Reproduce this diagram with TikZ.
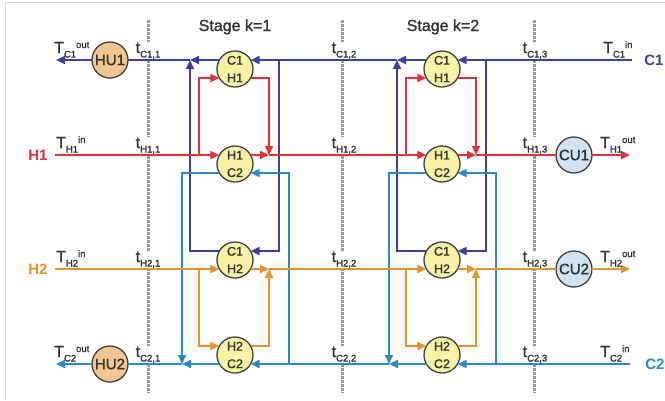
\documentclass[tikz,border=0pt]{standalone}
\usepackage{fontspec}
\setmainfont{Liberation Sans}
\newfontfamily\medfont{Liberation Sans}[FakeBold=1.4]
\usetikzlibrary{arrows.meta, positioning}

\definecolor{cold1}{HTML}{3D3F9A}
\definecolor{hot1}{HTML}{E2303D}
\definecolor{hot2}{HTML}{E8922C}
\definecolor{cold2}{HTML}{2A89C8}
\definecolor{hxfill}{HTML}{FAF3A6}
\definecolor{hufill}{HTML}{F2C68E}
\definecolor{cufill}{HTML}{D0E4F3}

% label with subscript and superscript
\newcommand{\tlab}[3]{#1\raisebox{-4.5pt}{\fontsize{9.5}{9.5}\selectfont #2}\raisebox{5pt}{\fontsize{9.5}{9.5}\selectfont #3}}

\begin{document}
\begin{tikzpicture}[
                x=1pt, y=-1pt,
                every node/.style={font=\medfont\fontsize{16}{18}\selectfont, text=black!80},
                hx/.style={draw=black!75, fill=hxfill, circle, minimum size=36pt, inner sep=0pt, outer sep=0pt,
                           line width=1.3pt, align=center, font=\medfont\fontsize{12.5}{17.5}\selectfont},
                hu/.style={hx, fill=hufill, font=\medfont\fontsize{15}{15}\selectfont},
                cu/.style={hx, fill=cufill, font=\medfont\fontsize{15}{15}\selectfont},
                flow/.style={line width=1.8pt},
                arr/.style={flow, -{Triangle[length=9pt, width=8pt]}},
                stage/.style={gray!80, line width=3pt, dash pattern=on 2.5pt off 1.5pt},
                lab/.style={anchor=base, inner sep=0pt},
                labw/.style={anchor=base west, inner sep=0pt},
                tpt/.style={lab, fill=white, inner sep=1pt},
                stream/.style={anchor=base, inner sep=0pt, font=\fontsize{15}{16}\selectfont\bfseries}]

            \useasboundingbox (0,0) rectangle (665,400);
            \draw[black!15, line width=1pt] (5,400) -- (5,2) -- (665,2);

            % stage boundaries
            \draw[stage] (148,20) -- (148,393);
            \draw[stage] (342,20) -- (342,393);
            \draw[stage] (534,20) -- (534,393);
            \node[lab] (st1) at (235,31) {Stage k=1};
            \node[lab] (st2) at (443,31) {Stage k=2};

            % stage temperatures
            \node[tpt] (tc11) at (148,53) {\tlab{t}{C1,1}{}};
            \node[tpt] (tc12) at (344,53) {\tlab{t}{C1,2}{}};
            \node[tpt] (tc13) at (535,53) {\tlab{t}{C1,3}{}};
            \node[tpt] (th11) at (148,148) {\tlab{t}{H1,1}{}};
            \node[tpt] (th12) at (344,148) {\tlab{t}{H1,2}{}};
            \node[tpt] (th13) at (535,148) {\tlab{t}{H1,3}{}};
            \node[tpt] (th21) at (148,262) {\tlab{t}{H2,1}{}};
            \node[tpt] (th22) at (344,262) {\tlab{t}{H2,2}{}};
            \node[tpt] (th23) at (535,262) {\tlab{t}{H2,3}{}};
            \node[tpt] (tc21) at (148,357) {\tlab{t}{C2,1}{}};
            \node[tpt] (tc22) at (344,357) {\tlab{t}{C2,2}{}};
            \node[tpt] (tc23) at (535,357) {\tlab{t}{C2,3}{}};

            % exchangers
            \node[hx] (c1h1k1) at (235,69) {C1\\H1};
            \node[hx] (h1c2k1) at (235,164) {H1\\C2};
            \node[hx] (c1h2k1) at (235,260) {C1\\H2};
            \node[hx] (h2c2k1) at (235,355) {H2\\C2};
            \node[hx] (c1h1k2) at (442,69) {C1\\H1};
            \node[hx] (h1c2k2) at (442,164) {H1\\C2};
            \node[hx] (c1h2k2) at (442,260) {C1\\H2};
            \node[hx] (h2c2k2) at (442,355) {H2\\C2};

            % utilities
            \node[hu] (hu1) at (110,60) {HU1};
            \node[hu] (hu2) at (110,364) {HU2};
            \node[cu] (cu1) at (574,155) {CU1};
            \node[cu] (cu2) at (574,269) {CU2};

            % splits and mixers
            \coordinate (c1s1) at (279,60);  \coordinate (c1m1) at (190,60);
            \coordinate (h1s1) at (199,155); \coordinate (h1m1) at (269,155);
            \coordinate (h2s1) at (199,269); \coordinate (h2m1) at (269,269);
            \coordinate (c2s1) at (289,364); \coordinate (c2m1) at (182,364);
            \coordinate (c1s2) at (486,60);  \coordinate (c1m2) at (397,60);
            \coordinate (h1s2) at (406,155); \coordinate (h1m2) at (476,155);
            \coordinate (h2s2) at (406,269); \coordinate (h2m2) at (476,269);
            \coordinate (c2s2) at (496,364); \coordinate (c2m2) at (389,364);

            % stream ends
            \coordinate (c1in) at (632,60);  \coordinate (c1out) at (56,60);
            \coordinate (h1in) at (55,155);  \coordinate (h1out) at (630,155);
            \coordinate (h2in) at (55,269);  \coordinate (h2out) at (630,269);
            \coordinate (c2in) at (630,364); \coordinate (c2out) at (56,364);

            % C1
            \draw[flow, cold1] (c1in) -- (c1s2) (c1m2) -- (c1s1) (c1m1) -- (hu1);
            \draw[arr, cold1] (c1s2) -- (c1h1k2.30);
            \draw[arr, cold1] (c1h1k2.150) -- (c1m2);
            \draw[arr, cold1] (c1s2) |- (c1h2k2.30);
            \draw[arr, cold1] (c1h2k2.150) -| (c1m2);
            \draw[arr, cold1] (c1s1) -- (c1h1k1.30);
            \draw[arr, cold1] (c1h1k1.150) -- (c1m1);
            \draw[arr, cold1] (c1s1) |- (c1h2k1.30);
            \draw[arr, cold1] (c1h2k1.150) -| (c1m1);
            \draw[arr, cold1] (hu1) -- (c1out);

            % C2
            \draw[flow, cold2] (c2in) -- (c2s2) (c2m2) -- (c2s1) (c2m1) -- (hu2);
            \draw[arr, cold2] (c2s2) -- (h2c2k2.330);
            \draw[arr, cold2] (h2c2k2.210) -- (c2m2);
            \draw[arr, cold2] (c2s2) |- (h1c2k2.330);
            \draw[arr, cold2] (h1c2k2.210) -| (c2m2);
            \draw[arr, cold2] (c2s1) -- (h2c2k1.330);
            \draw[arr, cold2] (h2c2k1.210) -- (c2m1);
            \draw[arr, cold2] (c2s1) |- (h1c2k1.330);
            \draw[arr, cold2] (h1c2k1.210) -| (c2m1);
            \draw[arr, cold2] (hu2) -- (c2out);

            % H1
            \draw[flow, hot1] (h1in) -- (h1s1) (h1m1) -- (h1s2) (h1m2) -- (cu1);
            \draw[arr, hot1] (h1s1) -- (h1c2k1.150);
            \draw[arr, hot1] (h1c2k1.30) -- (h1m1);
            \draw[arr, hot1] (h1s1) |- (c1h1k1.210);
            \draw[arr, hot1] (c1h1k1.330) -| (h1m1);
            \draw[arr, hot1] (h1s2) -- (h1c2k2.150);
            \draw[arr, hot1] (h1c2k2.30) -- (h1m2);
            \draw[arr, hot1] (h1s2) |- (c1h1k2.210);
            \draw[arr, hot1] (c1h1k2.330) -| (h1m2);
            \draw[arr, hot1] (cu1) -- (h1out);

            % H2
            \draw[flow, hot2] (h2in) -- (h2s1) (h2m1) -- (h2s2) (h2m2) -- (cu2);
            \draw[arr, hot2] (h2s1) -- (c1h2k1.210);
            \draw[arr, hot2] (c1h2k1.330) -- (h2m1);
            \draw[arr, hot2] (h2s1) |- (h2c2k1.150);
            \draw[arr, hot2] (h2c2k1.30) -| (h2m1);
            \draw[arr, hot2] (h2s2) -- (c1h2k2.210);
            \draw[arr, hot2] (c1h2k2.330) -- (h2m2);
            \draw[arr, hot2] (h2s2) |- (h2c2k2.150);
            \draw[arr, hot2] (h2c2k2.30) -| (h2m2);
            \draw[arr, hot2] (cu2) -- (h2out);

            % stream names
            \node[stream, text=cold1] (nc1) at (654,65) {C1};
            \node[stream, text=hot1] (nh1) at (38,160) {H1};
            \node[stream, text=hot2] (nh2) at (38,274) {H2};
            \node[stream, text=cold2] (nc2) at (655,369) {C2};

            % inlet and outlet temperatures
            \node[labw] (tc1out) at (54,53) {\tlab{T}{C1}{out}};
            \node[labw] (th1in) at (56,148) {\tlab{T}{H1}{in}};
            \node[labw] (th2in) at (56,262) {\tlab{T}{H2}{in}};
            \node[labw] (tc2out) at (54,357) {\tlab{T}{C2}{out}};
            \node[labw] (tc1in) at (603,53) {\tlab{T}{C1}{in}};
            \node[labw] (th1out) at (600,148) {\tlab{T}{H1}{out}};
            \node[labw] (th2out) at (600,262) {\tlab{T}{H2}{out}};
            \node[labw] (tc2in) at (600,357) {\tlab{T}{C2}{in}};

        \end{tikzpicture}
\end{document}
